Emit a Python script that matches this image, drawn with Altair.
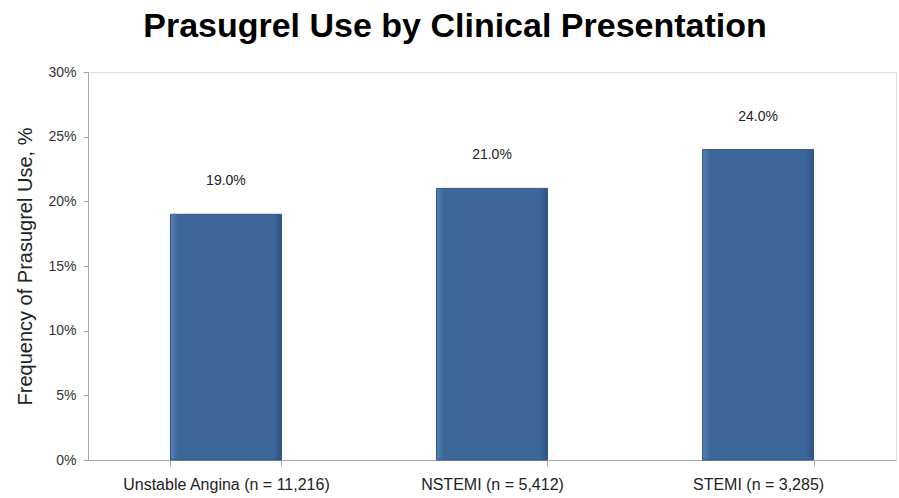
import altair as alt
import pandas as pd

# Prasugrel use share by clinical presentation
presentations = ["Unstable Angina (n = 11,216)", "NSTEMI (n = 5,412)", "STEMI (n = 3,285)"]
use_pct = [19.0, 21.0, 24.0]

df = pd.DataFrame({"presentation": presentations, "pct": use_pct})
df["frac"] = df["pct"] / 100
df["label"] = df["pct"].map(lambda v: f"{v:.1f}%")

x_enc = alt.X(
    "presentation:N",
    sort=presentations,
    scale=alt.Scale(paddingInner=0.583, paddingOuter=0.31),
    axis=alt.Axis(
        title=None,
        labelAngle=0,
        labelFont="Liberation Sans",
        labelFontSize=16,
        labelColor="#222222",
        labelPadding=10,
        labelLimit=0,
        tickBand="extent",
        tickSize=6,
        tickColor="#A6A6A6",
        domainColor="#A6A6A6",
    ),
)

y_scale = alt.Scale(domain=[0, 0.30], nice=False)

# bevelled look: lighter left edge, darker right edge
bar_fill = alt.Gradient(
    gradient="linear",
    x1=0, x2=1, y1=0, y2=0,
    stops=[
        alt.GradientStop(color="#5580B4", offset=0),
        alt.GradientStop(color="#3D6698", offset=0.07),
        alt.GradientStop(color="#3D6698", offset=0.93),
        alt.GradientStop(color="#2E5283", offset=1),
    ],
)

bars = alt.Chart(df).mark_bar(
    fill=bar_fill,
    stroke="#2F5586",
    strokeWidth=1,
).encode(
    x=x_enc,
    y=alt.Y(
        "frac:Q",
        scale=y_scale,
        axis=alt.Axis(
            title="Frequency of Prasugrel Use, %",
            titleFont="Liberation Sans",
            titleFontSize=20,
            titleFontWeight="normal",
            titleColor="#222222",
            titlePadding=12,
            format=".0%",
            values=[0, 0.05, 0.10, 0.15, 0.20, 0.25, 0.30],
            labelFont="Liberation Sans",
            labelFontSize=14,
            labelColor="#333333",
            labelPadding=7,
            tickSize=5,
            tickColor="#A6A6A6",
            domainColor="#A6A6A6",
            grid=False,
        ),
    ),
)

labels = alt.Chart(df).mark_text(
    dy=-33,
    font="Liberation Sans",
    fontSize=14,
    color="#222222",
    baseline="middle",
).encode(
    x=alt.X("presentation:N", sort=presentations),
    y=alt.Y("frac:Q", scale=y_scale),
    text="label:N",
)

chart = (
    alt.layer(bars, labels)
    .properties(
        width=808,
        height=388,
        title=alt.TitleParams(
            "Prasugrel Use by Clinical Presentation",
            font="Liberation Sans",
            fontSize=34,
            fontWeight="bold",
            color="#000000",
            anchor="middle",
            dx=-37,
            offset=21,
        ),
        autosize=alt.AutoSizeParams(type="none"),
        padding={"left": 88, "top": 72, "right": 3, "bottom": 38},
    )
    .configure_view(stroke=None)
    .configure(background="white")
)

chart.save("out.html", embed_options={"renderer": "svg", "actions": False})
